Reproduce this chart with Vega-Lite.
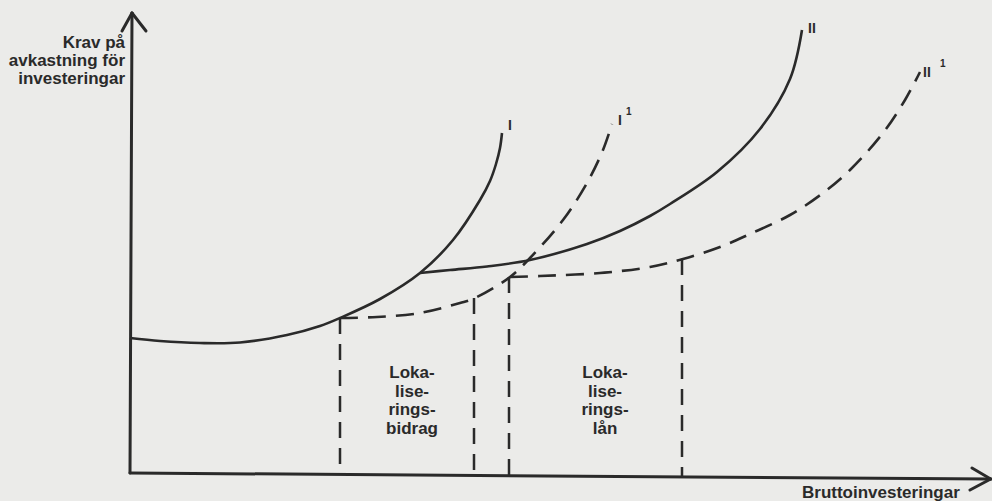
{
  "$schema": "https://vega.github.io/schema/vega-lite/v6.json",
  "width": 992,
  "height": 501,
  "padding": 0,
  "autosize": {"type": "none"},
  "background": "#ebebe9",
  "config": {"view": {"stroke": null}},
  "datasets": {
    "solid": [
      {"curve": "I", "x": 0, "y": 134}, {"curve": "I", "x": 30, "y": 131}, {"curve": "I", "x": 70, "y": 129},
      {"curve": "I", "x": 110, "y": 129.5}, {"curve": "I", "x": 157, "y": 137}, {"curve": "I", "x": 190, "y": 146},
      {"curve": "I", "x": 210, "y": 154}, {"curve": "I", "x": 250, "y": 173}, {"curve": "I", "x": 290, "y": 199},
      {"curve": "I", "x": 323, "y": 232}, {"curve": "I", "x": 350, "y": 272}, {"curve": "I", "x": 360, "y": 291},
      {"curve": "I", "x": 366, "y": 308}, {"curve": "I", "x": 370, "y": 324}, {"curve": "I", "x": 372, "y": 339},
      {"curve": "II", "x": 290, "y": 199}, {"curve": "II", "x": 320, "y": 202}, {"curve": "II", "x": 357, "y": 205.5},
      {"curve": "II", "x": 400, "y": 212}, {"curve": "II", "x": 457, "y": 228}, {"curve": "II", "x": 490, "y": 241},
      {"curve": "II", "x": 520, "y": 256}, {"curve": "II", "x": 540, "y": 268}, {"curve": "II", "x": 587, "y": 300},
      {"curve": "II", "x": 630, "y": 343}, {"curve": "II", "x": 660, "y": 393}, {"curve": "II", "x": 672, "y": 442}
    ],
    "dashed": [
      {"curve": "I1", "x": 210, "y": 154}, {"curve": "I1", "x": 247, "y": 155}, {"curve": "I1", "x": 290, "y": 159},
      {"curve": "I1", "x": 330, "y": 169}, {"curve": "I1", "x": 345, "y": 174}, {"curve": "I1", "x": 380, "y": 195},
      {"curve": "I1", "x": 400, "y": 214}, {"curve": "I1", "x": 433, "y": 252}, {"curve": "I1", "x": 457, "y": 289},
      {"curve": "I1", "x": 473, "y": 322}, {"curve": "I1", "x": 482, "y": 348},
      {"curve": "II1", "x": 380, "y": 195}, {"curve": "II1", "x": 410, "y": 196}, {"curve": "II1", "x": 470, "y": 199},
      {"curve": "II1", "x": 520, "y": 205}, {"curve": "II1", "x": 553, "y": 213}, {"curve": "II1", "x": 590, "y": 225},
      {"curve": "II1", "x": 620, "y": 238}, {"curve": "II1", "x": 660, "y": 257}, {"curve": "II1", "x": 693, "y": 279},
      {"curve": "II1", "x": 720, "y": 302}, {"curve": "II1", "x": 753, "y": 339}, {"curve": "II1", "x": 775, "y": 372},
      {"curve": "II1", "x": 790, "y": 400}
    ],
    "drops": [
      {"x": 210, "y": 154, "x2": 210, "y2": -2},
      {"x": 344, "y": 174, "x2": 344, "y2": -3},
      {"x": 379, "y": 195, "x2": 379, "y2": -3},
      {"x": 552, "y": 213, "x2": 552, "y2": -4.5}
    ],
    "axes": [
      {"x": 0, "y": -1, "x2": 860.7, "y2": -7},
      {"x": 842, "y": 4, "x2": 860.7, "y2": -7},
      {"x": 840, "y": -18, "x2": 860.7, "y2": -7},
      {"x": 0, "y": -1, "x2": 2, "y2": 459},
      {"x": -8, "y": 441, "x2": 2, "y2": 459},
      {"x": 16, "y": 441, "x2": 2, "y2": 459}
    ],
    "titleLeft": [
      {"x": -5, "y": 424, "t": "Krav på"},
      {"x": -5, "y": 406, "t": "avkastning för"},
      {"x": -5, "y": 388, "t": "investeringar"}
    ],
    "titleBottom": [
      {"x": 672, "y": -26, "t": "Bruttoinvesteringar"}
    ],
    "boxLabels": [
      {"x": 282, "y": 94, "t": "Loka-"}, {"x": 282, "y": 75, "t": "lise-"},
      {"x": 282, "y": 57, "t": "rings-"}, {"x": 282, "y": 38, "t": "bidrag"},
      {"x": 475, "y": 94, "t": "Loka-"}, {"x": 475, "y": 75, "t": "lise-"},
      {"x": 475, "y": 57, "t": "rings-"}, {"x": 475, "y": 38, "t": "lån"}
    ],
    "curveLabels": [
      {"x": 378, "y": 342, "t": "I"},
      {"x": 488, "y": 347, "t": "I"},
      {"x": 678, "y": 439, "t": "II"},
      {"x": 793, "y": 395, "t": "II"}
    ],
    "supers": [
      {"x": 496, "y": 357, "t": "1"},
      {"x": 810, "y": 405, "t": "1"}
    ]
  },
  "encoding": {
    "x": {"field": "x", "type": "quantitative", "scale": {"domain": [-130, 862], "nice": false, "zero": false}, "axis": null},
    "y": {"field": "y", "type": "quantitative", "scale": {"domain": [-29, 472], "nice": false, "zero": false}, "axis": null}
  },
  "layer": [
    {
      "data": {"name": "axes"},
      "mark": {"type": "rule", "color": "#2a2a2a", "strokeWidth": 3, "strokeCap": "round"},
      "encoding": {"x2": {"field": "x2"}, "y2": {"field": "y2"}}
    },
    {
      "data": {"name": "drops"},
      "mark": {"type": "rule", "color": "#2a2a2a", "strokeWidth": 2.5, "strokeDash": [16, 10]},
      "encoding": {"x2": {"field": "x2"}, "y2": {"field": "y2"}}
    },
    {
      "data": {"name": "solid"},
      "mark": {"type": "line", "color": "#2a2a2a", "strokeWidth": 2.6, "interpolate": "catmull-rom"},
      "encoding": {"detail": {"field": "curve", "type": "nominal"}}
    },
    {
      "data": {"name": "dashed"},
      "mark": {"type": "line", "color": "#2a2a2a", "strokeWidth": 2.6, "interpolate": "catmull-rom", "strokeDash": [18, 10]},
      "encoding": {"detail": {"field": "curve", "type": "nominal"}}
    },
    {
      "data": {"name": "titleLeft"},
      "mark": {"type": "text", "align": "right", "baseline": "alphabetic", "font": "Liberation Sans", "fontWeight": "bold", "fontSize": 17, "color": "#2a2a2a"},
      "encoding": {"text": {"field": "t"}}
    },
    {
      "data": {"name": "titleBottom"},
      "mark": {"type": "text", "align": "left", "baseline": "alphabetic", "font": "Liberation Sans", "fontWeight": "bold", "fontSize": 17, "color": "#2a2a2a"},
      "encoding": {"text": {"field": "t"}}
    },
    {
      "data": {"name": "boxLabels"},
      "mark": {"type": "text", "align": "center", "baseline": "alphabetic", "font": "Liberation Sans", "fontWeight": "bold", "fontSize": 17, "color": "#2a2a2a"},
      "encoding": {"text": {"field": "t"}}
    },
    {
      "data": {"name": "curveLabels"},
      "mark": {"type": "text", "align": "left", "baseline": "alphabetic", "font": "Liberation Sans", "fontWeight": "bold", "fontSize": 14, "color": "#2a2a2a"},
      "encoding": {"text": {"field": "t"}}
    },
    {
      "data": {"name": "supers"},
      "mark": {"type": "text", "align": "left", "baseline": "alphabetic", "font": "Liberation Sans", "fontWeight": "bold", "fontSize": 10, "color": "#2a2a2a"},
      "encoding": {"text": {"field": "t"}}
    }
  ]
}
